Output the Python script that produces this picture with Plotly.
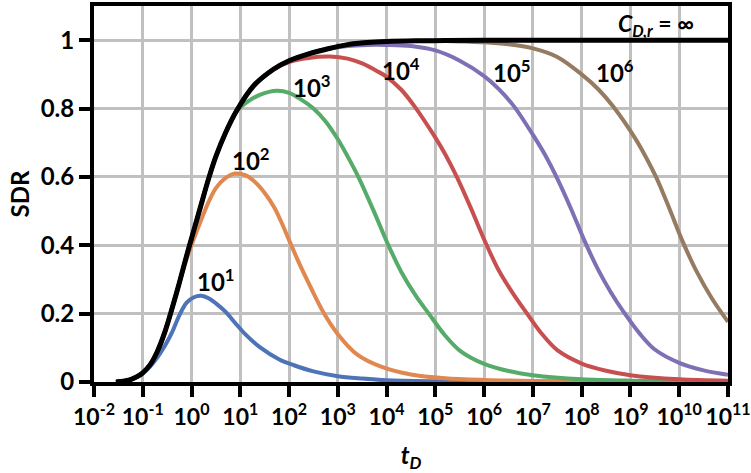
import plotly.graph_objects as go

# ---------------- data ----------------
x_tick_vals = [1e-2, 1e-1, 1e0, 1e1, 1e2, 1e3, 1e4, 1e5, 1e6, 1e7, 1e8, 1e9, 1e10, 1e11]
x_tick_text = ["10<sup>-2</sup>", "10<sup>-1</sup>", "10<sup>0</sup>", "10<sup>1</sup>", "10<sup>2</sup>",
               "10<sup>3</sup>", "10<sup>4</sup>", "10<sup>5</sup>", "10<sup>6</sup>", "10<sup>7</sup>",
               "10<sup>8</sup>", "10<sup>9</sup>", "10<sup>10</sup>", "10<sup>11</sup>"]
y_tick_vals = [0, 0.2, 0.4, 0.6, 0.8, 1.0]
y_tick_text = ["0", "0.2", "0.4", "0.6", "0.8", "1"]

# shared early-time part (all curves coincide with the black envelope here)
td_early = [0.0282, 0.0398, 0.0562, 0.0794, 0.1, 0.141, 0.2, 0.282, 0.398, 0.562, 0.794, 1.12, 1.58,
            2.24, 3.16, 5.01]
sdr_early = [0.0, 0.002, 0.007, 0.017, 0.027, 0.05, 0.09, 0.145, 0.215, 0.29, 0.37, 0.445, 0.52,
             0.595, 0.66, 0.73]

# C_D,r = infinity (black envelope)
td_inf = td_early + [8.51, 18.6, 47.9, 100, 251, 631, 1585, 3981, 1e4, 3.98e4, 1.58e5, 1e6, 1e8, 1e11]
sdr_inf = sdr_early + [0.795, 0.866, 0.915, 0.94, 0.96, 0.975, 0.987, 0.993, 0.996, 0.998, 0.999, 1.0, 1.0, 1.0]

# C_D,r = 10^1
td_c1 = [0.0282, 0.0398, 0.0562, 0.0794, 0.1, 0.141, 0.2, 0.282, 0.398, 0.562, 0.794, 1.12, 1.58, 2.24,
         3.16, 5.01, 7.94, 12.6, 25.1, 63.1, 126, 316, 1000, 3162, 1e4, 1e5, 1e6, 1e11]
sdr_c1 = [0.0, 0.002, 0.007, 0.016, 0.025, 0.045, 0.072, 0.105, 0.145, 0.195, 0.232, 0.248, 0.252, 0.245,
          0.23, 0.205, 0.172, 0.14, 0.102, 0.066, 0.049, 0.031, 0.017, 0.01, 0.005, 0.002, 0.001, 0.0]

# C_D,r = 10^2
td_c2 = td_early[:10] + [0.794, 1.12, 1.58, 2.24, 3.16, 5.01, 7.94, 12.6, 20, 31.6, 50.1, 70.8, 100, 158,
                         282, 501, 1000, 2512, 7943, 3.16e4, 1.58e5, 1e6, 1e7, 1e8, 1e11]
sdr_c2 = sdr_early[:10] + [0.36, 0.42, 0.475, 0.527, 0.567, 0.597, 0.61, 0.605, 0.585, 0.553, 0.51, 0.465,
                           0.415, 0.35, 0.275, 0.205, 0.14, 0.08, 0.044, 0.022, 0.011, 0.006, 0.003, 0.002,
                           0.001]

# C_D,r = 10^3
td_c3 = td_early + [8.51, 13.5, 25.1, 56.2, 100, 178, 316, 562, 1000, 1585, 2630, 5370, 1.05e4, 2e4,
                    3.98e4, 7.59e4, 1.58e5, 3.16e5, 1e6, 3.16e6, 1e7, 1e8, 1e9, 1e11]
sdr_c3 = sdr_early + [0.793, 0.818, 0.84, 0.852, 0.846, 0.826, 0.80, 0.762, 0.71, 0.66, 0.60, 0.502, 0.405,
                      0.322, 0.252, 0.197, 0.136, 0.092, 0.053, 0.032, 0.02, 0.008, 0.004, 0.002]

# C_D,r = 10^4
td_c4 = td_early + [8.51, 18.6, 47.9, 100, 251, 692, 1585, 3162, 6310, 1e4, 2e4, 3.8e4, 1e5, 1.58e5,
                    2.75e5, 5.37e5, 1.05e6, 2e6, 3.98e6, 7.59e6, 1.58e7, 3.16e7, 1e8, 3.16e8, 1e9, 1e10,
                    1e11]
sdr_c4 = sdr_early + [0.795, 0.866, 0.915, 0.936, 0.948, 0.952, 0.946, 0.932, 0.91, 0.893, 0.855, 0.805,
                      0.715, 0.667, 0.60, 0.508, 0.41, 0.326, 0.257, 0.20, 0.138, 0.093, 0.054, 0.033,
                      0.02, 0.008, 0.004]

# C_D,r = 10^5
td_c5 = td_early + [8.51, 18.6, 47.9, 100, 251, 631, 1585, 3981, 1e4, 3.16e4, 1e5, 3.16e5, 1e6, 2e6,
                    4.17e6, 1.12e7, 1.78e7, 3.16e7, 6.03e7, 1.15e8, 2.24e8, 3.98e8, 7.24e8, 1.58e9,
                    3.16e9, 1e10, 3.16e10, 1e11]
sdr_c5 = sdr_early + [0.795, 0.866, 0.915, 0.94, 0.96, 0.975, 0.983, 0.986, 0.986, 0.983, 0.97, 0.94,
                      0.895, 0.857, 0.805, 0.712, 0.664, 0.595, 0.507, 0.412, 0.325, 0.262, 0.205, 0.14,
                      0.095, 0.056, 0.034, 0.021]

# C_D,r = 10^6
td_c6 = td_early + [8.51, 18.6, 47.9, 100, 251, 631, 1585, 3981, 1e4, 1e5, 3.98e5, 1e6, 3.16e6, 1e7,
                    3.16e7, 1e8, 2.24e8, 4.47e8, 1.26e9, 2e9, 3.47e9, 6.31e9, 1.12e10, 2.24e10, 4.79e10,
                    1e11]
sdr_c6 = sdr_early + [0.795, 0.866, 0.915, 0.94, 0.96, 0.975, 0.987, 0.993, 0.996, 0.998, 0.996, 0.994,
                      0.988, 0.976, 0.951, 0.90, 0.855, 0.805, 0.712, 0.662, 0.595, 0.507, 0.418, 0.325,
                      0.242, 0.176]

series_names = ["10^1", "10^2", "10^3", "10^4", "10^5", "10^6", "inf"]
series_x = [td_c1, td_c2, td_c3, td_c4, td_c5, td_c6, td_inf]
series_y = [sdr_c1, sdr_c2, sdr_c3, sdr_c4, sdr_c5, sdr_c6, sdr_inf]
series_colors = ["#4E74B8", "#E0884F", "#55AB67", "#C84F4F", "#7F70B5", "#957B61", "#000000"]

# curve labels
label_text = ["10<sup>1</sup>", "10<sup>2</sup>", "10<sup>3</sup>", "10<sup>4</sup>",
              "10<sup>5</sup>", "10<sup>6</sup>"]
label_logx = [0.5, 1.22, 2.47, 4.3, 6.57, 8.69]
label_y = [0.297, 0.651, 0.866, 0.915, 0.91, 0.91]

FONT = "Lato"

fig = go.Figure()
for name, xs, ys, col in zip(series_names, series_x, series_y, series_colors):
    fig.add_trace(go.Scatter(
        x=xs, y=ys, mode="lines", name=name,
        line=dict(color=col, width=5 if col == "#000000" else 4, shape="spline", smoothing=0.9),
        showlegend=False, hoverinfo="skip"))

for t, lx, ly in zip(label_text, label_logx, label_y):
    fig.add_annotation(x=lx, y=ly, xref="x", yref="y", text=t, showarrow=False,
                       font=dict(family=FONT, size=24, color="black", weight="bold"))

fig.add_annotation(x=9.53, y=1.045, xref="x", yref="y",
                   text="<i>C</i><sub><i>D,r</i></sub> = ∞", showarrow=False,
                   font=dict(family=FONT, size=23, color="black", weight="bold"))

fig.update_layout(
    width=751, height=473,
    margin=dict(l=94, r=23, t=6, b=91, autoexpand=False),
    paper_bgcolor="white", plot_bgcolor="white",
    font=dict(family=FONT, size=22, color="black", weight="bold"),
    xaxis=dict(
        type="log", range=[-2, 11], automargin=False,
        tickvals=x_tick_vals, ticktext=x_tick_text,
        showgrid=True, gridcolor="#c0c0c0", gridwidth=3,
        showline=True, linecolor="black", linewidth=4, mirror=True,
        ticks="outside", ticklen=11, tickwidth=4, tickcolor="black",
        tickfont=dict(family=FONT, size=23, color="black", weight="bold"),
        title=dict(text="<i>t<sub>D</sub></i>", standoff=20,
                   font=dict(family=FONT, size=24, color="black", weight="bold")),
        zeroline=False,
    ),
    yaxis=dict(
        range=[0, 1.1], automargin=False,
        tickvals=y_tick_vals, ticktext=y_tick_text,
        showgrid=True, gridcolor="#c0c0c0", gridwidth=3,
        showline=True, linecolor="black", linewidth=4, mirror=True,
        ticks="outside", ticklen=11, tickwidth=4, tickcolor="black",
        tickfont=dict(family=FONT, size=24, color="black", weight="bold"),
        title=dict(text="SDR", standoff=5,
                   font=dict(family=FONT, size=24, color="black", weight="bold")),
        zeroline=False,
    ),
)

fig.write_html("out.html", config={"displayModeBar": False},
               post_script="document.body.style.margin='0px';")
